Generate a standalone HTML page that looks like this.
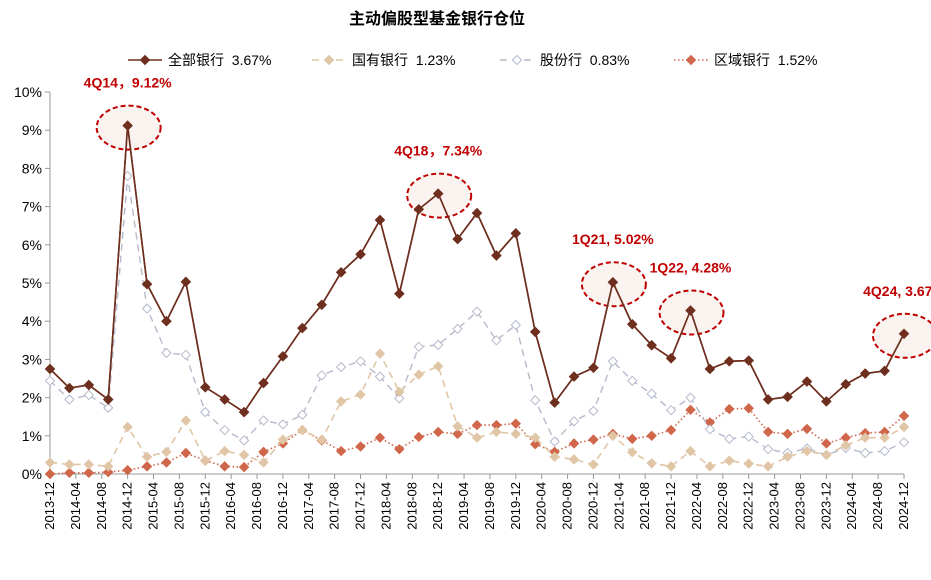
<!DOCTYPE html>
<html><head><meta charset="utf-8"><style>
body{margin:0;background:#fff;width:931px;height:575px;overflow:hidden}
svg{font-family:"Liberation Sans","Noto Sans CJK SC",sans-serif}
</style></head><body>
<svg id="c" width="931" height="575">
<text x="437" y="24" text-anchor="middle" font-size="16" font-weight="bold" fill="#000">主动偏股型基金银行仓位</text>
<g id="legend"></g>
<g id="grid"></g><g id="series"></g><g id="ann"></g>
</svg>
<script>
const tickLabels=["2013-12","2014-04","2014-08","2014-12","2015-04","2015-08","2015-12","2016-04","2016-08","2016-12","2017-04","2017-08","2017-12","2018-04","2018-08","2018-12","2019-04","2019-08","2019-12","2020-04","2020-08","2020-12","2021-04","2021-08","2021-12","2022-04","2022-08","2022-12","2023-04","2023-08","2023-12","2024-04","2024-08","2024-12"];
const yTicks=[0,1,2,3,4,5,6,7,8,9,10];
const allBanks=[2.75,2.25,2.33,1.95,9.12,4.97,4.0,5.03,2.27,1.95,1.62,2.38,3.08,3.82,4.43,5.28,5.75,6.65,4.72,6.93,7.34,6.15,6.83,5.72,6.3,3.72,1.87,2.55,2.78,5.02,3.92,3.37,3.03,4.28,2.75,2.95,2.97,1.95,2.02,2.42,1.9,2.35,2.63,2.7,3.67];
const stateBanks=[0.3,0.25,0.25,0.2,1.23,0.45,0.58,1.4,0.35,0.6,0.5,0.3,0.9,1.15,0.9,1.9,2.08,3.15,2.15,2.6,2.82,1.25,0.95,1.1,1.05,0.95,0.45,0.38,0.25,1.0,0.57,0.28,0.2,0.6,0.2,0.35,0.27,0.2,0.45,0.6,0.5,0.75,0.95,0.95,1.23];
const jointBanks=[2.44,1.95,2.07,1.73,7.8,4.33,3.17,3.12,1.62,1.15,0.88,1.4,1.3,1.55,2.58,2.8,2.95,2.55,1.98,3.33,3.38,3.8,4.25,3.5,3.9,1.93,0.85,1.38,1.65,2.95,2.44,2.1,1.67,2.0,1.17,0.92,0.98,0.65,0.55,0.67,0.5,0.68,0.55,0.6,0.83];
const regionalBanks=[0.0,0.03,0.03,0.05,0.1,0.2,0.3,0.55,0.35,0.2,0.18,0.58,0.8,1.15,0.88,0.6,0.72,0.95,0.65,0.97,1.1,1.05,1.28,1.28,1.32,0.78,0.58,0.8,0.9,1.05,0.92,1.0,1.15,1.68,1.35,1.7,1.72,1.1,1.05,1.18,0.8,0.95,1.07,1.1,1.52];
const annLabels=["4Q14，9.12%","4Q18，7.34%","1Q21, 5.02%","1Q22, 4.28%","4Q24, 3.67%"];
const annIdx=[4,20,29,33,44];
const legendNames=["全部银行","国有银行","股份行","区域银行"];
const legendVals=["3.67%","1.23%","0.83%","1.52%"];

const NS="http://www.w3.org/2000/svg";
const L=50,R=904,T=92,B=474;
const xM=m=>L+(R-L)*m/132;
const xQ=i=>xM(i*3);
const yV=v=>B-(B-T)*v/10;
function mk(p,tag,a){const e=document.createElementNS(NS,tag);for(const k in a)e.setAttribute(k,a[k]);p.appendChild(e);return e;}
const grid=document.getElementById('grid');
mk(grid,'line',{x1:L,y1:T,x2:L,y2:B,stroke:'#999'});
mk(grid,'line',{x1:L,y1:B,x2:R,y2:B,stroke:'#999'});
yTicks.forEach(v=>{
 mk(grid,'line',{x1:L-5,y1:yV(v),x2:L,y2:yV(v),stroke:'#999'});
 const t=mk(grid,'text',{x:L-8,y:yV(v)+5,'text-anchor':'end','font-size':14,fill:'#000'});
 t.textContent=v+'%';
 
 
});
tickLabels.forEach((s,i)=>{
 const x=xM(i*4);
 mk(grid,'line',{x1:x,y1:B,x2:x,y2:B+5,stroke:'#999'});
 const t=mk(grid,'text',{x:x+4,y:B+8,'text-anchor':'end','font-size':13,fill:'#000',transform:`rotate(-90 ${x+4} ${B+8})`});
 t.textContent=s;
 
 
});
const seriesDefs=[
 {d:allBanks,c:'#6e2f1f',dash:'',fill:'#6e2f1f',w:1.6,n:'all-banks'},
 {d:stateBanks,c:'#e0c6a6',dash:'7,5',fill:'#e0c6a6',w:1.6,n:'state-banks'},
 {d:jointBanks,c:'#b5b9cc',dash:'7,5',fill:'#fff',w:1.4,n:'joint-stock-banks'},
 {d:regionalBanks,c:'#d0664a',dash:'1.5,2.5',fill:'#d0664a',w:1.6,n:'regional-banks'}];
const sg=document.getElementById('series');
const dia=(g,x,y,s,f,c)=>mk(g,'path',{d:`M${x} ${y-s}L${x+s} ${y}L${x} ${y+s}L${x-s} ${y}Z`,fill:f,stroke:c,'stroke-width':1});
const ag=document.getElementById('ann');
seriesDefs.slice().reverse().forEach(s=>{
 const g=mk(sg,'g',{});
 
 
 mk(g,'polyline',{points:s.d.map((v,i)=>xQ(i)+','+yV(v)).join(' '),fill:'none',stroke:s.c,'stroke-width':s.w,'stroke-dasharray':s.dash});
 s.d.forEach((v,i)=>{const p=dia(g,xQ(i),yV(v),4.5,s.fill,s.c);
  
  });
});
annIdx.forEach((i,k)=>{
 const x=xQ(i),y=yV(allBanks[i]);
 const e=mk(ag,'ellipse',{cx:x+1,cy:y+2,rx:32,ry:22,fill:'rgba(240,220,210,0.35)',stroke:'#c00000','stroke-width':2,'stroke-dasharray':'5,3'});
 
 
 const t=mk(ag,'text',{x:x,y:y-38,'text-anchor':'middle','font-size':14,'font-weight':'bold',fill:'#c00000'});
 t.textContent=annLabels[k];
 
 
});
const overlayGroup=mk(ag,'g',{});


mk(overlayGroup,'polyline',{points:allBanks.map((v,i)=>xQ(i)+','+yV(v)).join(' '),fill:'none',stroke:'#6e2f1f','stroke-width':1.6});
allBanks.forEach((v,i)=>dia(overlayGroup,xQ(i),yV(v),4.5,'#6e2f1f','#6e2f1f'));
const lg=document.getElementById('legend');
const lx=[128,312,500,674];
seriesDefs.forEach((s,k)=>{
 const g=mk(lg,'g',{});
 
 
 mk(g,'line',{x1:lx[k],y1:60,x2:lx[k]+34,y2:60,stroke:s.c,'stroke-width':s.w,'stroke-dasharray':s.dash});
 dia(g,lx[k]+17,60,4.5,s.fill,s.c);
 const t=mk(g,'text',{x:lx[k]+40,y:65,'font-size':14,fill:'#000',style:'white-space:pre'});
 t.textContent=legendNames[k]+'  '+legendVals[k];
});
</script>
</body></html>
